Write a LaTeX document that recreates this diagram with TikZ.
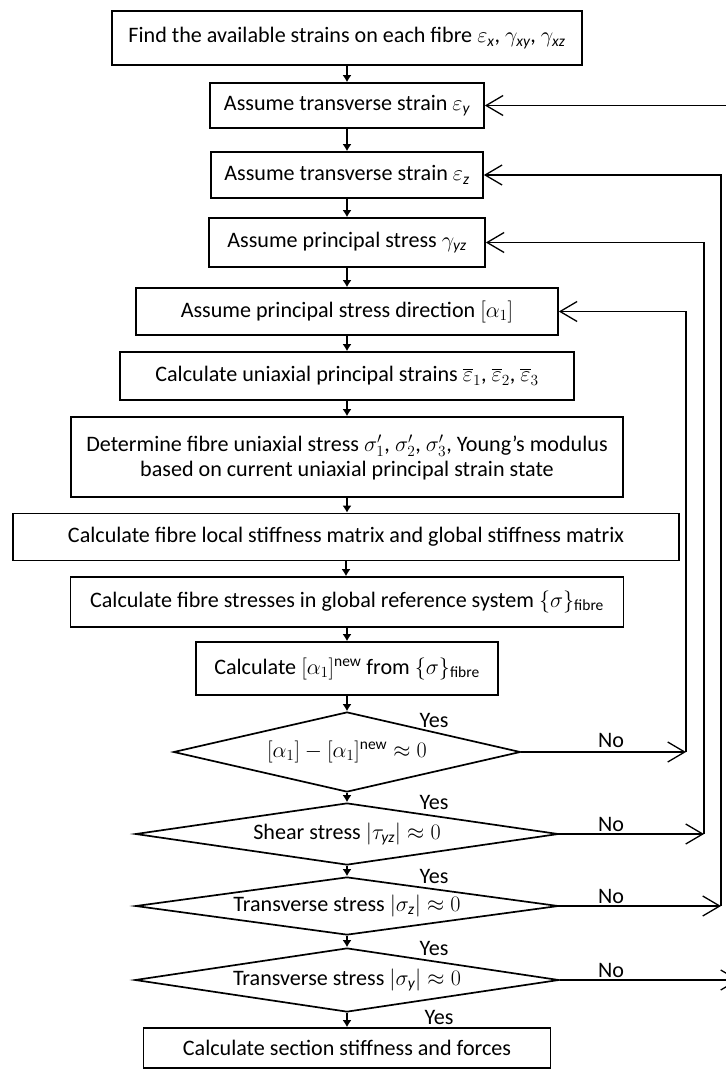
\RequirePackage{fix-cm}
\documentclass[tikz,border=0pt]{standalone}
\usepackage{amsmath}
\usepackage{fontspec}
\setmainfont{Carlito}
\usetikzlibrary{shapes.geometric,arrows.meta}
\newcommand\myfont{\fontsize{22.1pt}{25pt}\selectfont}
\newcommand\isub[1]{_{\textit{#1}}}
\begin{document}
\begin{tikzpicture}[x=1pt,y=-1pt,
  box/.style={draw, line width=1.7pt, inner sep=0pt, align=center, font=\myfont},
  dia/.style={draw, diamond, line width=1.7pt, inner sep=0pt},
  txt/.style={inner sep=0pt, font=\myfont},
  flow/.style={line width=1.3pt, -{Latex[length=7pt,width=9pt]}},
  loopar/.style={line width=1.3pt, -{Straight Barb[length=17pt,width=20pt,line width=1.3pt]}}]
\clip (0,0) rectangle (726,1072);
\fill[white] (0,0) rectangle (726,1072);

\node[box, minimum width=470pt, minimum height=54pt] (b1) at (347,38)
  {Find the available strains on each fibre $\varepsilon\isub{x}$, $\gamma\isub{xy}$, $\gamma\isub{xz}$};
\node[box, minimum width=274pt, minimum height=45pt] (b2) at (347,105.5)
  {Assume transverse strain $\varepsilon\isub{y}$};
\node[box, minimum width=272pt, minimum height=46pt] (b3) at (347,175)
  {Assume transverse strain $\varepsilon\isub{z}$};
\node[box, minimum width=276pt, minimum height=49pt] (b4) at (347,242.5)
  {Assume principal stress $\gamma\isub{yz}$};
\node[box, minimum width=422pt, minimum height=47pt] (b5) at (347,311.5)
  {Assume principal stress direction $[\alpha_1]$};
\node[box, minimum width=454pt, minimum height=48pt] (b6) at (347,376)
  {Calculate uniaxial principal strains $\overline{\varepsilon}_1$, $\overline{\varepsilon}_2$, $\overline{\varepsilon}_3$};
\node[box, minimum width=552pt, minimum height=80pt] (b7) at (347,457)
  {Determine fibre uniaxial stress $\sigma'_1$, $\sigma'_2$, $\sigma'_3$, Young’s modulus\\based on current uniaxial principal strain state};
\node[box, minimum width=666pt, minimum height=47pt] (b8) at (346,537)
  {Calculate fibre local stiffness matrix and global stiffness matrix};
\node[box, minimum width=553pt, minimum height=50pt] (b9) at (347,602)
  {Calculate fibre stresses in global reference system $\{\sigma\}_{\text{fibre}}$};
\node[box, minimum width=302pt, minimum height=53pt] (b10) at (347,668.5)
  {Calculate $[\alpha_1]^{\text{new}}$ from $\{\sigma\}_{\text{fibre}}$};

\node[dia, minimum width=347pt, minimum height=80pt] (d1) at (347,752) {};
\node[txt] (t1) at (d1.center) {$[\alpha_1]-[\alpha_1]^{\text{new}}\approx 0$};
\node[dia, minimum width=423pt, minimum height=62pt] (d2) at (347,834) {};
\node[txt] (t2) at (d2.center) {Shear stress $|\tau\isub{yz}|\approx 0$};
\node[dia, minimum width=423pt, minimum height=58pt] (d3) at (347,906) {};
\node[txt] (t3) at (d3.center) {Transverse stress $|\sigma\isub{z}|\approx 0$};
\node[dia, minimum width=424pt, minimum height=64pt] (d4) at (347,980) {};
\node[txt] (t4) at (d4.center) {Transverse stress $|\sigma\isub{y}|\approx 0$};

\node[box, minimum width=407pt, minimum height=40pt] (b11) at (347,1048)
  {Calculate section stiffness and forces};

\foreach \a/\b in {b1/b2,b2/b3,b3/b4,b4/b5,b5/b6,b6/b7,b7/b8,b8/b9,b9/b10,b10/d1,d1/d2,d2/d3,d3/d4,d4/b11}
  \draw[flow] (\a.south) -- (\a.south |- \b.north);

\node[txt] (y1) at (434,720) {Yes};
\node[txt] (y2) at (434,802) {Yes};
\node[txt] (y3) at (434,876) {Yes};
\node[txt] (y4) at (434,948) {Yes};
\node[txt] (y5) at (439,1017) {Yes};

\node[txt] (n1) at (611,740) {No};
\node[txt] (n2) at (611,824) {No};
\node[txt] (n3) at (611,896) {No};
\node[txt] (n4) at (611,970) {No};

\coordinate (c1) at (686,752);
\coordinate (c2) at (704,834);
\coordinate (c3) at (721,906);
\coordinate (c4) at (739,980);

\draw[loopar] (d1.east) -- (c1);
\draw[loopar] (c1) |- (b5.east);
\draw[loopar] (d2.east) -- (c2);
\draw[loopar] (c2) |- (b4.east);
\draw[loopar] (d3.east) -- (c3);
\draw[loopar] (c3) |- (b3.east);
\draw[loopar] (d4.east) -- (c4);
\draw[loopar] (c4) |- (b2.east);
\end{tikzpicture}
\end{document}
